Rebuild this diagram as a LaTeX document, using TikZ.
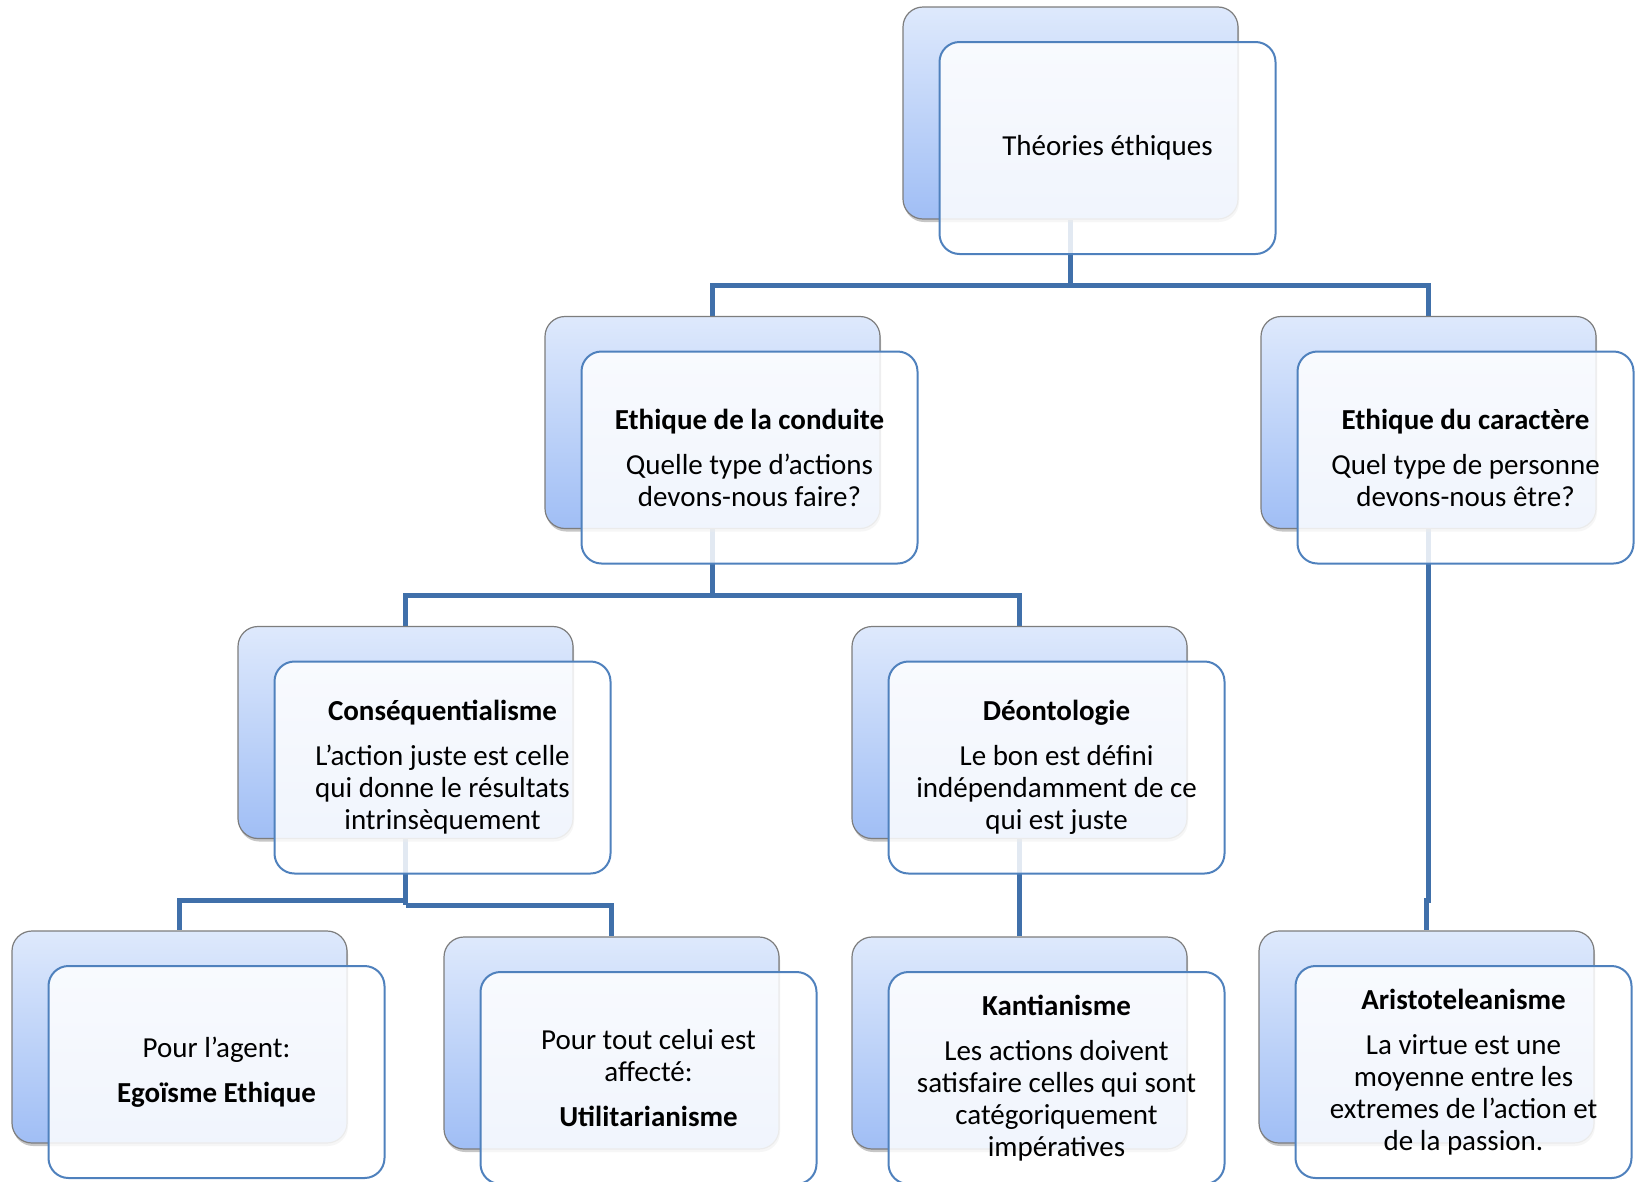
\documentclass[tikz,border=0pt]{standalone}
\usepackage{fontspec}
\setmainfont{Carlito}
\usetikzlibrary{shadows,backgrounds}
\definecolor{connc}{RGB}{64,112,170}
\definecolor{frontb}{RGB}{79,129,189}
\definecolor{backtop}{RGB}{222,233,252}
\definecolor{backbot}{RGB}{160,190,245}
\definecolor{backb}{RGB}{125,125,125}
\tikzset{
  backbox/.style={draw=backb, line width=1.2pt, rounded corners=20pt,
    minimum width=335pt, minimum height=212pt, inner sep=0pt,
    top color=backtop, bottom color=backbot,
    drop shadow={shadow xshift=1pt, shadow yshift=-3pt, opacity=0.45}},
  frontbox/.style={draw=frontb, line width=2pt, rounded corners=20pt,
    minimum width=336pt, minimum height=212pt, inner sep=0pt,
    fill=white, fill opacity=0.85, text opacity=1, align=center,
    font=\fontsize{29}{32}\selectfont},
  conn/.style={draw=connc, line width=5pt},
}
\begin{document}
\begin{tikzpicture}[x=1pt,y=-1pt]
\useasboundingbox (0,0) rectangle (1637,1181);
% level 1
\node[backbox] (b0) at (1070.5,113) {};
\node[frontbox] (f0) at (1107.5,148) {Théories éthiques};
% level 2
\node[backbox] (b1) at (712.5,422.5) {};
\node[frontbox] (f1) at (749.5,457.5) {\textbf{Ethique de la conduite}\\[13pt]Quelle type d’actions\\devons-nous faire?};
\node[backbox] (b2) at (1428.5,422.5) {};
\node[frontbox] (f2) at (1465.5,457.5) {\textbf{Ethique du caractère}\\[13pt]Quel type de personne\\devons-nous être?};
% level 3
\node[backbox] (b3) at (405.5,732.5) {};
\node[frontbox] (f3) at (442.5,767.5) {\textbf{Conséquentialisme}\\[13pt]L’action juste est celle\\qui donne le résultats\\intrinsèquement};
\node[backbox] (b4) at (1019.5,732.5) {};
\node[frontbox] (f4) at (1056.5,767.5) {\textbf{Déontologie}\\[13pt]Le bon est défini\\indépendamment de ce\\qui est juste};
% level 4
\node[backbox] (b5) at (179.5,1037) {};
\node[frontbox] (f5) at (216.5,1072) {Pour l’agent:\\[13pt]\textbf{Egoïsme Ethique}};
\node[backbox] (b6) at (611.5,1043) {};
\node[frontbox] (f6) at (648.5,1078) {Pour tout celui est\\affecté:\\[13pt]\textbf{Utilitarianisme}};
\node[backbox] (b7) at (1019.5,1043) {};
\node[frontbox] (f7) at (1056.5,1078) {\textbf{Kantianisme}\\[13pt]Les actions doivent\\satisfaire celles qui sont\\catégoriquement\\impératives};
\node[backbox] (b8) at (1426.5,1037) {};
\node[frontbox] (f8) at (1463.5,1072) {\textbf{Aristoteleanisme}\\[13pt]La virtue est une\\moyenne entre les\\extremes de l’action et\\de la passion.};
% connectors
\begin{scope}[on background layer]
\coordinate (j0) at (1070.5,285);
\draw[conn] (b0.south) -- (j0);
\draw[conn] (j0) -| (b1.north);
\draw[conn] (j0) -| (b2.north);
\coordinate (j1) at (712.5,595);
\draw[conn] (b1.south) -- (j1);
\draw[conn] (j1) -| (b3.north);
\draw[conn] (j1) -| (b4.north);
\coordinate (j3a) at (405.5,900);
\coordinate (j3b) at (405.5,905);
\draw[conn] (b3.south) -- (j3b);
\draw[conn] (j3a) -| (b5.north);
\draw[conn] (j3b) -| (b6.north);
\draw[conn] (b4.south) -- (b7.north);
\coordinate (j2) at (1428.5,900);
\draw[conn] (b2.south) -- (j2) -| (b8.north);
\end{scope}
\end{tikzpicture}
\end{document}
